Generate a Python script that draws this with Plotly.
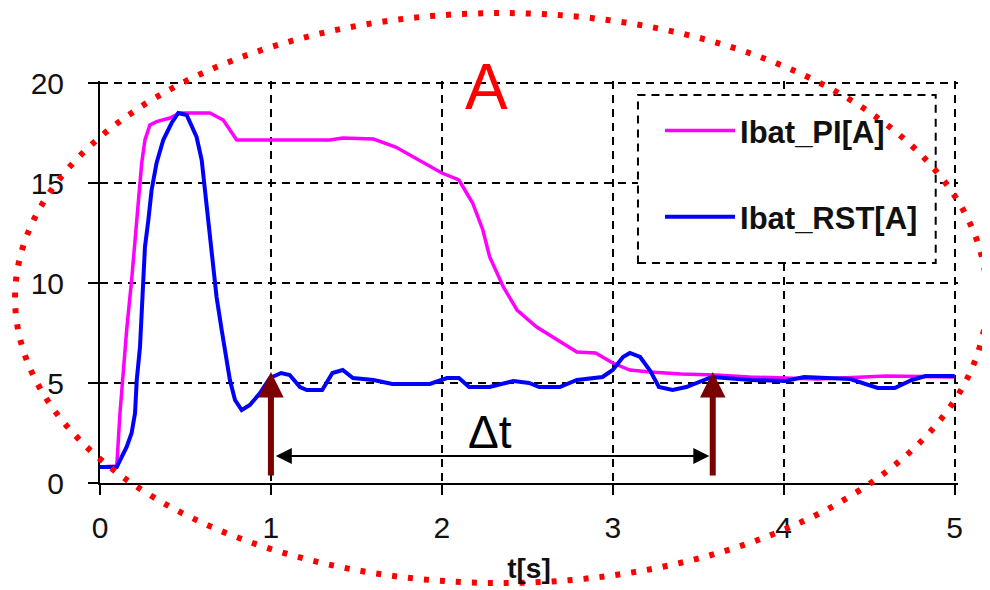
import plotly.graph_objects as go

# Battery current response, PI vs RST controller
t_pi = [0, 0.098, 0.117, 0.136, 0.156, 0.185, 0.205, 0.224, 0.244, 0.263, 0.292,
        0.331, 0.409, 0.468, 0.643, 0.721, 0.76, 0.8, 1.0, 1.345, 1.42, 1.6,
        1.73, 1.83, 1.93, 2.0, 2.1, 2.18, 2.24, 2.28, 2.36, 2.44, 2.555, 2.71,
        2.79, 2.9, 3.0, 3.1, 3.22, 3.4, 3.6, 3.8, 4.2, 4.6, 5.0]
i_pi = [0.8, 0.85, 3.5, 5.65, 7.65, 10.15, 12.15, 14.15, 16.0, 17.15, 17.9,
        18.07, 18.25, 18.5, 18.5, 18.15, 17.65, 17.15, 17.15, 17.15, 17.25, 17.2,
        16.8, 16.3, 15.8, 15.5, 15.15, 14.0, 12.65, 11.3, 9.8, 8.65, 7.8, 7.0,
        6.55, 6.5, 6.0, 5.65, 5.55, 5.45, 5.4, 5.3, 5.2, 5.35, 5.3]

t_rst = [0, 0.098, 0.156, 0.185, 0.205, 0.215, 0.234, 0.253, 0.263, 0.283, 0.302,
         0.331, 0.37, 0.419, 0.458, 0.507, 0.565, 0.595, 0.614, 0.633, 0.663,
         0.682, 0.712, 0.741, 0.76, 0.79, 0.829, 0.877, 0.936, 0.994, 1.06,
         1.11, 1.17, 1.21, 1.30, 1.36, 1.42, 1.48, 1.60, 1.71, 1.93, 2.03, 2.10,
         2.16, 2.28, 2.42, 2.51, 2.57, 2.69, 2.79, 2.94, 3.0, 3.06, 3.1, 3.16,
         3.22, 3.27, 3.35, 3.43, 3.58, 3.81, 4.01, 4.12, 4.39, 4.55, 4.65, 4.75,
         4.83, 5.0]
i_rst = [0.8, 0.8, 1.8, 2.5, 3.5, 5.15, 6.8, 10.15, 11.8, 13.15, 14.65,
         16.0, 17.15, 18.0, 18.5, 18.4, 17.3, 16.15, 14.65, 13.15, 10.8,
         9.3, 7.65, 6.3, 5.15, 4.15, 3.65, 3.9, 4.5, 5.25, 5.5,
         5.4, 4.8, 4.65, 4.65, 5.5, 5.65, 5.25, 5.15, 4.95, 4.95, 5.25, 5.25,
         4.8, 4.8, 5.1, 5.0, 4.8, 4.8, 5.15, 5.3, 5.65, 6.3, 6.5, 6.3,
         5.6, 4.8, 4.65, 4.8, 5.3, 5.15, 5.1, 5.3, 5.2, 4.75, 4.75, 5.15,
         5.35, 5.35]

x_ticks = [0, 1, 2, 3, 4, 5]
y_ticks = [0, 5, 10, 15, 20]

# settling markers: start / end of delta t
t_start = 1.0
t_end = 3.585
arrow_tip = 5.55
dt_level = 1.35

FONT = "Liberation Sans, Arial, sans-serif"

fig = go.Figure()
fig.add_trace(go.Scatter(x=t_pi, y=i_pi, mode="lines", name="<b>Ibat_PI[A]</b>",
                         legendgroup="pi", line=dict(color="#ff00ff", width=3.5)))
fig.add_trace(go.Scatter(x=t_rst, y=i_rst, mode="lines", name="<b>Ibat_RST[A]</b>",
                         legendgroup="rst", line=dict(color="#0000ff", width=4)))

# vertical arrows
for tx in [t_start, t_end]:
    fig.add_annotation(x=tx, y=arrow_tip, ax=tx, ay=0.3, xref="x", yref="y",
                       axref="x", ayref="y", text="", showarrow=True,
                       arrowhead=2, arrowsize=0.85, arrowwidth=6,
                       arrowcolor="#7b0000", standoff=0)

# double arrow for delta t
fig.add_annotation(x=t_end - 0.02, y=dt_level, ax=t_start + 0.02, ay=dt_level,
                   xref="x", yref="y", axref="x", ayref="y", text="",
                   showarrow=True, arrowside="end+start", arrowhead=2,
                   startarrowhead=2, arrowsize=1.6, startarrowsize=1.6,
                   arrowwidth=2, arrowcolor="black", standoff=0, startstandoff=0)
fig.add_annotation(x=2.28, y=2.55, text="Δt", showarrow=False,
                   font=dict(family=FONT, size=46, color="black"))
fig.add_annotation(x=2.26, y=19.8, text="A", showarrow=False,
                   font=dict(family=FONT, size=64, color="red"))

# legend frame (dashed) and the red dotted ellipse
fig.add_shape(type="rect", xref="paper", yref="paper",
              x0=0.627, x1=0.974, y0=0.547, y1=0.965,
              line=dict(color="black", width=2, dash="8px,6px"),
              fillcolor="white", layer="above")
fig.add_shape(type="circle", xref="paper", yref="paper",
              x0=-0.099, x1=1.0338, y0=-0.2488, y1=1.169,
              line=dict(color="red", width=6, dash="5px,11px"), layer="above")

axis_common = dict(showline=True, linecolor="black", linewidth=2,
                   ticks="outside", ticklen=10, tickwidth=2, tickcolor="black",
                   showgrid=True, gridcolor="black", gridwidth=1.5,
                   griddash="8px,6px", zeroline=False, mirror=False,
                   tickfont=dict(family=FONT, size=30, color="#111"))

# ranges a touch wider than 5 / 20 so the end gridlines are still drawn
fig.update_xaxes(range=[0, 5.02], tickvals=x_ticks, ticklabelstandoff=7,
                 title=dict(text="<b>t[s]</b>", standoff=15,
                            font=dict(family=FONT, size=28, color="#111")),
                 **axis_common)
fig.update_yaxes(range=[0, 20.1], tickvals=y_ticks, ticklabelstandoff=18,
                 **axis_common)

fig.update_layout(
    width=990, height=590,
    margin=dict(l=92, r=40, t=73, b=115),
    plot_bgcolor="white", paper_bgcolor="white",
    showlegend=True,
    legend=dict(x=0.6527, y=0.943, xanchor="left", yanchor="top",
                bgcolor="rgba(0,0,0,0)", borderwidth=0, tracegroupgap=43,
                itemwidth=70,
                font=dict(family=FONT, size=31, color="#111")),
)

fig.write_html("out.html")
